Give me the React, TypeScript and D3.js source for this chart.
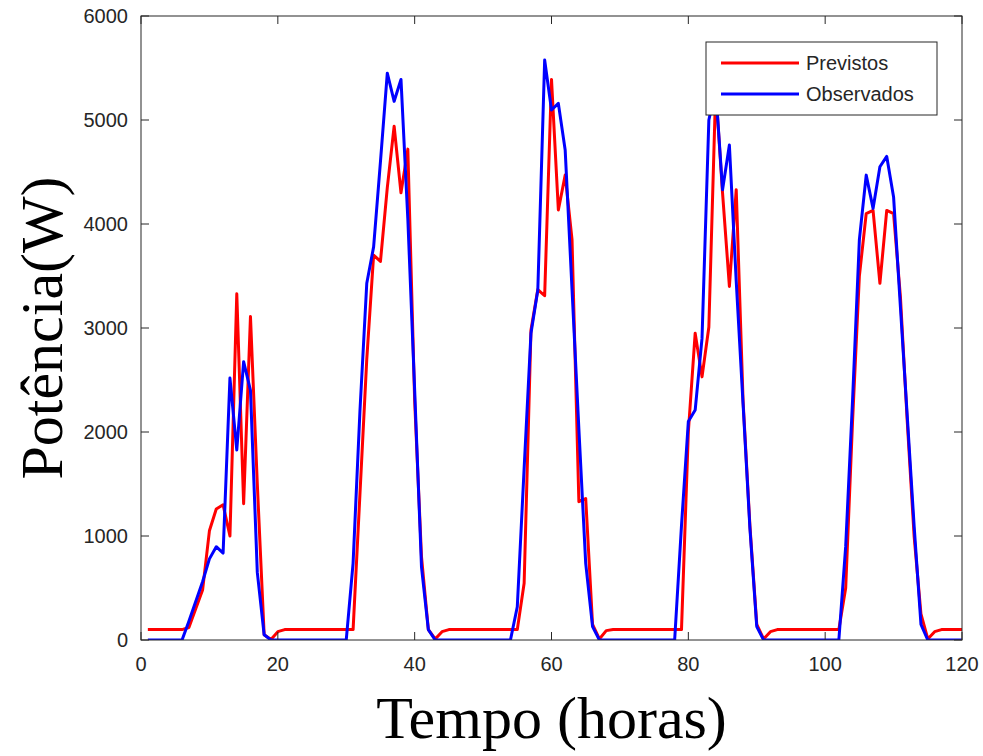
import React from 'react';
import * as d3 from 'd3';

// horas 1..120
const horas = d3.range(1, 121);

const previstos = [
  100, 100, 100, 100, 100, 100, 120, 300, 480, 1050,
  1260, 1300, 1000, 3330, 1310, 3110, 1500, 50, 5, 80,
  100, 100, 100, 100, 100, 100, 100, 100, 100, 100,
  100, 1400, 2700, 3700, 3640, 4350, 4940, 4300, 4720, 2300,
  800, 100, 10, 80, 100, 100, 100, 100, 100, 100,
  100, 100, 100, 100, 100, 545, 2980, 3370, 3310, 5390,
  4135, 4470, 3850, 1330, 1360, 150, 10, 90, 100, 100,
  100, 100, 100, 100, 100, 100, 100, 100, 100, 2000,
  2950, 2530, 3010, 5300, 4300, 3400, 4330, 2300, 1100, 150,
  10, 80, 100, 100, 100, 100, 100, 100, 100, 100,
  100, 100, 500, 2100, 3500, 4100, 4130, 3430, 4130, 4100,
  3300, 2100, 1000, 250, 10, 80, 100, 100, 100, 100,
];

const observados = [
  0, 0, 0, 0, 0, 0, 180, 370, 560, 780,
  897, 836, 2519, 1827, 2676, 2400, 650, 50, 0, 0,
  0, 0, 0, 0, 0, 0, 0, 0, 0, 0,
  740, 2200, 3430, 3780, 4600, 5450, 5180, 5390, 4050, 2400,
  700, 100, 0, 0, 0, 0, 0, 0, 0, 0,
  0, 0, 0, 0, 320, 1650, 2950, 3365, 5577, 5096,
  5160, 4711, 3370, 2030, 737, 128, 0, 0, 0, 0,
  0, 0, 0, 0, 0, 0, 0, 0, 1100, 2100,
  2211, 2900, 5000, 5300, 4330, 4760, 3450, 2270, 1075, 130,
  0, 0, 0, 0, 0, 0, 0, 0, 0, 0,
  0, 0, 900, 2300, 3850, 4470, 4150, 4550, 4650, 4260,
  3200, 2150, 1100, 150, 0, 0, 0, 0, 0, 0,
];

const xTicks = [0, 20, 40, 60, 80, 100, 120];
const yTicks = [0, 1000, 2000, 3000, 4000, 5000, 6000];

const series = [
  { name: 'Previstos', values: previstos, color: '#ff0000' },
  { name: 'Observados', values: observados, color: '#0000ff' },
];

const W = 983;
const H = 756;
const margin = { top: 16, right: 21, bottom: 116, left: 141 };
const axisColor = '#262626';
const sans = '"Liberation Sans", Arial, sans-serif';
const serif = '"Liberation Serif", "Times New Roman", serif';

export default function App() {
  const iw = W - margin.left - margin.right;
  const ih = H - margin.top - margin.bottom;

  const x = d3.scaleLinear().domain([0, 120]).range([0, iw]);
  const y = d3.scaleLinear().domain([0, 6000]).range([ih, 0]);

  const line = (vals: number[]) =>
    d3.line<number>()
      .x((_, i) => x(horas[i]))
      .y(d => y(d))(vals) || '';

  const tk = 8;

  return (
    <svg width={W} height={H} style={{ position: 'absolute', left: 0, top: 0, background: '#fff' }}>
      <g transform={`translate(${margin.left},${margin.top})`}>
        <clipPath id="plot">
          <rect x={0} y={0} width={iw} height={ih} />
        </clipPath>
        <g clipPath="url(#plot)">
          {series.map(s => (
            <path key={s.name} d={line(s.values)} fill="none" stroke={s.color}
              strokeWidth={3} strokeLinejoin="round" />
          ))}
        </g>

        {/* box + ticks */}
        <rect x={0} y={0} width={iw} height={ih} fill="none" stroke={axisColor} strokeWidth={1} />
        {xTicks.map(t => (
          <g key={'x' + t}>
            <line x1={x(t)} x2={x(t)} y1={ih} y2={ih - tk} stroke={axisColor} />
            <line x1={x(t)} x2={x(t)} y1={0} y2={tk} stroke={axisColor} />
            <text x={x(t)} y={ih + 31} textAnchor="middle" fontFamily={sans}
              fontSize={20} fill={axisColor}>{t}</text>
          </g>
        ))}
        {yTicks.map(t => (
          <g key={'y' + t}>
            <line x1={0} x2={tk} y1={y(t)} y2={y(t)} stroke={axisColor} />
            <line x1={iw} x2={iw - tk} y1={y(t)} y2={y(t)} stroke={axisColor} />
            <text x={-13} y={y(t) + 7} textAnchor="end" fontFamily={sans}
              fontSize={20} fill={axisColor}>{t}</text>
          </g>
        ))}

        {/* legend */}
        <g transform={`translate(${706 - margin.left},${42 - margin.top})`}>
          <rect x={0} y={0} width={231} height={73} fill="#fff" stroke={axisColor} strokeWidth={1} />
          {series.map((s, i) => (
            <g key={s.name} transform={`translate(0,${21 + i * 31})`}>
              <line x1={15} x2={93} y1={0} y2={0} stroke={s.color} strokeWidth={3} />
              <text x={100} y={7} fontFamily={sans} fontSize={20} fill={axisColor}>{s.name}</text>
            </g>
          ))}
        </g>
      </g>

      <text x={margin.left + iw / 2} y={738} textAnchor="middle" fontFamily={serif}
        fontSize={60} fill="#000">Tempo (horas)</text>
      <text transform={`translate(62,${margin.top + ih / 2}) rotate(-90)`} textAnchor="middle"
        fontFamily={serif} fontSize={60} fill="#000">Potência(W)</text>
    </svg>
  );
}
